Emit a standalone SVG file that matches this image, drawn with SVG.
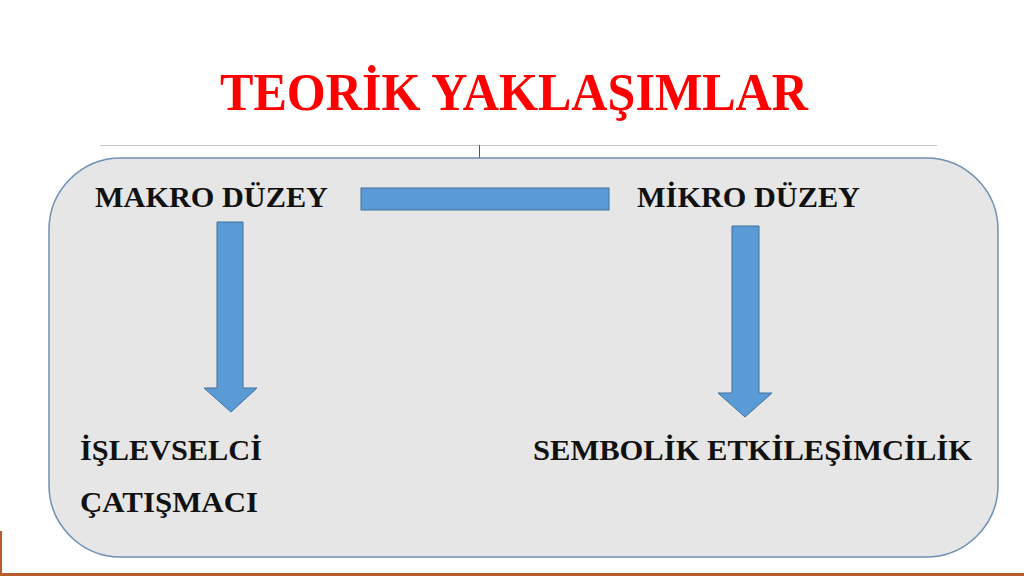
<svg xmlns="http://www.w3.org/2000/svg" width="1024" height="576" viewBox="0 0 1024 576">
<style>
.lbl{font-family:"Liberation Serif","Times New Roman",serif;font-weight:bold;font-size:28.5px;fill:#111}
.title{font-family:"Liberation Serif","Times New Roman",serif;font-weight:bold;font-size:53px;fill:#ff0000}
.shape{fill:#5b9bd5;stroke:#41719c;stroke-width:1}
</style>
<rect width="1024" height="576" fill="#ffffff"/>
<g id="title"><text class="title" x="220" y="110" textLength="588" lengthAdjust="spacingAndGlyphs">TEORİK YAKLAŞIMLAR</text></g>
<line x1="100" y1="145.5" x2="937" y2="145.5" stroke="#c8c8c8" stroke-width="1"/>
<line x1="479.5" y1="145" x2="479.5" y2="158" stroke="#555" stroke-width="1"/>
<g id="panel"><rect x="49" y="158" width="949" height="399" rx="72" ry="72" fill="#e6e6e6" stroke="#6d90b4" stroke-width="1.5"/></g>
<g id="connectors">
<rect class="shape" x="361" y="188" width="248" height="22"/>
<path class="shape" d="M217,222 H243 V388 H257 L231,412 L204,388 H217 Z"/>
<path class="shape" d="M732,226 H759 V393 H772 L745,417 L718,393 H732 Z"/>
</g>
<g id="makro"><text class="lbl" x="95" y="207" textLength="233" lengthAdjust="spacingAndGlyphs">MAKRO DÜZEY</text></g>
<g id="mikro"><text class="lbl" x="637" y="207" textLength="223" lengthAdjust="spacingAndGlyphs">MİKRO DÜZEY</text></g>
<g id="islevselci"><text class="lbl" x="80" y="460" textLength="182" lengthAdjust="spacingAndGlyphs">İŞLEVSELCİ</text></g>
<g id="catismaci"><text class="lbl" x="80" y="512" textLength="178" lengthAdjust="spacingAndGlyphs">ÇATIŞMACI</text></g>
<g id="sembolik"><text class="lbl" x="533" y="460" textLength="439" lengthAdjust="spacingAndGlyphs">SEMBOLİK ETKİLEŞİMCİLİK</text></g>
<rect x="0" y="573" width="1024" height="3" fill="#b85c2c"/>
<rect x="0" y="531" width="2" height="45" fill="#b85c2c"/>
</svg>
